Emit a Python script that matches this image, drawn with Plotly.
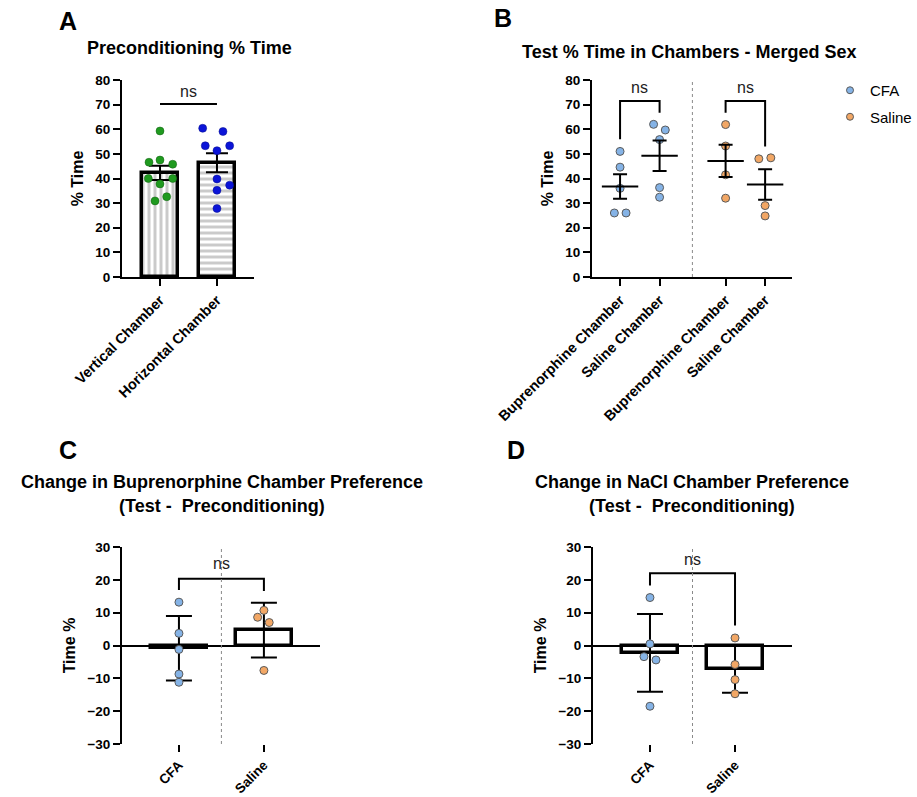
import numpy as np
import plotly.graph_objects as go

FONT = "Liberation Sans, Arial, sans-serif"

# ---------------- data ----------------
# Panel A: Preconditioning % time
a_categories = ["Vertical Chamber", "Horizontal Chamber"]
a_vertical = [59.3, 46.6, 47.5, 45.8, 40.0, 40.0, 37.8, 32.6, 30.9]
a_horizontal = [60.4, 59.1, 53.3, 53.3, 51.3, 39.8, 37.3, 35.2, 27.8]

# Panel B: Test % time in chambers (merged sex)
b_categories = ["Buprenorphine Chamber", "Saline Chamber",
                "Buprenorphine Chamber", "Saline Chamber"]
b_cfa_bup = [51.0, 44.6, 36.0, 26.0, 26.0]
b_cfa_sal = [62.0, 59.7, 55.8, 36.3, 32.4]
b_sal_bup = [61.9, 53.2, 41.5, 32.0]
b_sal_sal = [48.0, 48.4, 29.0, 24.8]

# Panel C: change in buprenorphine chamber preference
c_categories = ["CFA", "Saline"]
c_cfa = [13.2, 3.7, -1.2, -8.7, -11.2]
c_saline = [10.7, 8.6, 7.0, -7.6]

# Panel D: change in NaCl chamber preference
d_categories = ["CFA", "Saline"]
d_cfa = [14.6, 0.5, -3.4, -4.4, -18.5]
d_saline = [2.3, -5.8, -10.4, -14.7]

# ---------------- style ----------------
CFA_COLOR = "#85b3e6"
SAL_COLOR = "#f2a765"
GREEN = "#1f9a1f"
BLUE = "#0b14d8"

# horizontal jitter of dots, in pixels (style only)
a_vert_jit = [0, -11, 0, 12.7, -11.7, 12.7, 0, 6.7, -5]
a_hor_jit = [-14.3, 6, -11.7, 12.7, 0, 0, 12.7, 0, 0]
b_jit = [[0, 0, 0, -5.7, 6], [-6, 5.7, 0, 0, 0], [0, 0, 0, 0], [-6.3, 5.7, 0, 0]]
c_jit = [[0, 0, 0, 0, 0], [0, -6.3, 5.3, 0]]
d_jit = [[0, 0, -6, 6, 0], [0, 0, 0, 0]]

A_PX, B_PX, CD_PX = 57.0, 39.5, 85.0   # pixels per x unit
a_pos = [0, 1]
b_pos = [1, 2, 3.67, 4.67]
cd_pos = [0, 1]


def sem(v):
    v = np.asarray(v, float)
    return v.std(ddof=1) / np.sqrt(len(v))


def sd(v):
    return float(np.asarray(v, float).std(ddof=1))


def jitter(pos, jit, px):
    return [pos + j / px for j in jit]


fig = go.Figure()

# ---------- Panel A ----------
a_groups = [a_vertical, a_horizontal]
fig.add_trace(go.Bar(
    x=a_pos, y=[np.mean(g) for g in a_groups], width=0.62,
    marker=dict(color="white", line=dict(color="black", width=3.5),
                pattern=dict(shape=["|", "-"], fgcolor="#969696", bgcolor="white",
                             size=6, solidity=0.5)),
    error_y=dict(type="data", array=[sem(g) for g in a_groups], color="black",
                 thickness=2, width=11),
    xaxis="x", yaxis="y", showlegend=False))
fig.add_trace(go.Scatter(
    x=jitter(a_pos[0], a_vert_jit, A_PX), y=a_vertical, mode="markers",
    marker=dict(color=GREEN, size=8, line=dict(color="#136013", width=0.5)),
    xaxis="x", yaxis="y", showlegend=False))
fig.add_trace(go.Scatter(
    x=jitter(a_pos[1], a_hor_jit, A_PX), y=a_horizontal, mode="markers",
    marker=dict(color=BLUE, size=8, line=dict(color="#08108a", width=0.5)),
    xaxis="x", yaxis="y", showlegend=False))

# ---------- Panel B ----------
b_groups = [b_cfa_bup, b_cfa_sal, b_sal_bup, b_sal_sal]
b_colors = [CFA_COLOR, CFA_COLOR, SAL_COLOR, SAL_COLOR]
for pos, g, jit, col in zip(b_pos, b_groups, b_jit, b_colors):
    fig.add_trace(go.Scatter(
        x=jitter(pos, jit, B_PX), y=g, mode="markers",
        marker=dict(color=col, size=8, line=dict(color="#5a5a5a", width=1)),
        xaxis="x2", yaxis="y2", showlegend=False))
fig.add_trace(go.Scatter(
    x=b_pos, y=[np.mean(g) for g in b_groups], mode="markers",
    marker=dict(symbol="line-ew", size=26, color="black",
                line=dict(color="black", width=2)),
    error_y=dict(type="data", array=[sem(g) for g in b_groups], color="black",
                 thickness=2, width=7),
    xaxis="x2", yaxis="y2", showlegend=False))

# legend entries
fig.add_trace(go.Scatter(x=[None], y=[None], mode="markers", name="CFA",
                         legendgroup="cfa",
                         marker=dict(color=CFA_COLOR, size=7,
                                     line=dict(color="#5a5a5a", width=1)),
                         xaxis="x2", yaxis="y2"))
fig.add_trace(go.Scatter(x=[None], y=[None], mode="markers", name="Saline",
                         legendgroup="sal",
                         marker=dict(color=SAL_COLOR, size=7,
                                     line=dict(color="#5a5a5a", width=1)),
                         xaxis="x2", yaxis="y2"))

# ---------- Panels C & D ----------
for (cfa, sal, jits, xa, ya) in [(c_cfa, c_saline, c_jit, "x3", "y3"),
                                  (d_cfa, d_saline, d_jit, "x4", "y4")]:
    groups = [cfa, sal]
    fig.add_trace(go.Bar(
        x=cd_pos, y=[np.mean(g) for g in groups], width=0.65,
        marker=dict(color="white", line=dict(color="black", width=3.5)),
        error_y=dict(type="data", array=[sd(g) for g in groups], color="black",
                     thickness=2, width=13),
        xaxis=xa, yaxis=ya, showlegend=False))
    for pos, g, jit, col in zip(cd_pos, groups, jits, [CFA_COLOR, SAL_COLOR]):
        fig.add_trace(go.Scatter(
            x=jitter(pos, jit, CD_PX), y=g, mode="markers",
            marker=dict(color=col, size=8, line=dict(color="#5a5a5a", width=1)),
            xaxis=xa, yaxis=ya, showlegend=False))

# ---------- axes ----------
W, H = 917, 797


def xd(a, b):
    return [a / W, b / W]


def yd(top, bottom):
    return [1 - bottom / H, 1 - top / H]


ytickfont = dict(family=FONT, size=13.5, color="black", weight="bold")
xtickfont = dict(family=FONT, size=14.5, color="black", weight="bold")
cdtickfont = dict(family=FONT, size=13.5, color="black", weight="bold")
titlefont = dict(family=FONT, size=16, color="black")
common_x = dict(showline=True, linecolor="black", linewidth=2, ticks="outside",
                ticklen=7, tickwidth=2, tickcolor="black", showgrid=False,
                zeroline=False, tickangle=-45, tickfont=xtickfont, fixedrange=True,
                automargin=False)
common_y = dict(showline=True, linecolor="black", linewidth=2, ticks="outside",
                ticklen=7, tickwidth=2, tickcolor="black", showgrid=False,
                tickfont=ytickfont, fixedrange=True, automargin=False)

fig.update_layout(
    xaxis=dict(common_x, domain=xd(122, 254), range=[-0.667, 1.65], anchor="y",
               tickmode="array", tickvals=a_pos, ticktext=a_categories),
    yaxis=dict(common_y, domain=yd(80, 277), range=[0, 80], dtick=10, anchor="x",
               zeroline=False, title=dict(text="<b>% Time</b>", font=titlefont, standoff=8)),
    xaxis2=dict(common_x, domain=xd(592, 792), range=[0.29, 5.35], anchor="y2",
                tickmode="array", tickvals=b_pos, ticktext=b_categories),
    yaxis2=dict(common_y, domain=yd(80, 277), range=[0, 80], dtick=10, anchor="x2",
                zeroline=False, title=dict(text="<b>% Time</b>", font=titlefont, standoff=8)),
    xaxis3=dict(common_x, domain=xd(122, 320), range=[-0.67, 1.66], anchor="y3",
                showline=False, tickmode="array", tickvals=cd_pos, ticktext=c_categories,
                tickfont=cdtickfont),
    yaxis3=dict(common_y, domain=yd(547, 744), range=[-30, 30], dtick=10, anchor="x3",
                zeroline=True, zerolinecolor="black", zerolinewidth=2,
                title=dict(text="<b>Time %</b>", font=titlefont, standoff=8)),
    xaxis4=dict(common_x, domain=xd(593, 792), range=[-0.67, 1.67], anchor="y4",
                showline=False, tickmode="array", tickvals=cd_pos, ticktext=d_categories,
                tickfont=cdtickfont),
    yaxis4=dict(common_y, domain=yd(547, 744), range=[-30, 30], dtick=10, anchor="x4",
                zeroline=True, zerolinecolor="black", zerolinewidth=2,
                title=dict(text="<b>Time %</b>", font=titlefont, standoff=8)),
)

# ---------- shapes: brackets & dividers ----------
shapes = []
blk = dict(color="black", width=2)
dot = dict(color="#8a8a8a", width=1, dash="dot")
shapes.append(dict(type="line", xref="x", yref="y", x0=0, x1=1, y0=70.3, y1=70.3, line=blk))
shapes.append(dict(type="path", xref="x2", yref="y2",
                   path="M 1,55.9 L 1,71.5 L 2,71.5 L 2,66.7", line=blk))
shapes.append(dict(type="path", xref="x2", yref="y2",
                   path="M 3.67,66.7 L 3.67,71.5 L 4.67,71.5 L 4.67,53", line=blk))
shapes.append(dict(type="path", xref="x3", yref="y3",
                   path="M 0,16.9 L 0,20.3 L 1,20.3 L 1,16.6", line=blk))
shapes.append(dict(type="path", xref="x4", yref="y4",
                   path="M 0,18.3 L 0,22 L 1,22 L 1,6.1", line=blk))
shapes.append(dict(type="line", xref="x2", yref="y2", x0=2.83, x1=2.83, y0=0, y1=80, line=dot))
shapes.append(dict(type="line", xref="x3", yref="y3", x0=0.5, x1=0.5, y0=-30, y1=30, line=dot))
shapes.append(dict(type="line", xref="x4", yref="y4", x0=0.5, x1=0.5, y0=-30, y1=30, line=dot))
fig.update_layout(shapes=shapes)

# ---------- annotations ----------
ns_font = dict(family=FONT, size=16, color="#222")
ann = []
for xr, yr, x, y in [("x", "y", 0.5, 75.2), ("x2", "y2", 1.5, 77.1),
                     ("x2", "y2", 4.17, 77.1), ("x3", "y3", 0.5, 25.0),
                     ("x4", "y4", 0.5, 26.2)]:
    ann.append(dict(text="ns", xref=xr, yref=yr, x=x, y=y, showarrow=False,
                    font=ns_font, xanchor="center", yanchor="middle"))

tfont = dict(family=FONT, size=18, color="black")
lfont = dict(family=FONT, size=25, color="black")


def paper_text(text, x, y, font, xanchor="center"):
    return dict(text=text, xref="paper", yref="paper", x=x / W, y=1 - y / H,
                showarrow=False, font=font, xanchor=xanchor, yanchor="middle")


ann += [
    paper_text("<b>A</b>", 68, 21, lfont),
    paper_text("<b>B</b>", 503, 18, lfont),
    paper_text("<b>C</b>", 68, 450, lfont),
    paper_text("<b>D</b>", 516, 450, lfont),
    paper_text("<b>Preconditioning % Time</b>", 189, 48, tfont),
    paper_text("<b>Test % Time in Chambers - Merged Sex</b>", 689, 52, tfont),
    paper_text("<b>Change in Buprenorphine Chamber Preference</b>", 222, 482, tfont),
    paper_text("<b>(Test -  Preconditioning)</b>", 222, 506, tfont),
    paper_text("<b>Change in NaCl Chamber Preference</b>", 692, 482, tfont),
    paper_text("<b>(Test -  Preconditioning)</b>", 692, 506, tfont),
]
fig.update_layout(annotations=ann)

fig.update_layout(
    width=W, height=H, margin=dict(l=0, r=0, t=0, b=0, autoexpand=False),
    paper_bgcolor="white", plot_bgcolor="white",
    font=dict(family=FONT, color="black"),
    bargap=0,
    legend=dict(x=830 / W, y=1 - 74 / H, xanchor="left", yanchor="top",
                font=dict(family=FONT, size=15, color="black"),
                tracegroupgap=4, traceorder="grouped", bgcolor="rgba(0,0,0,0)"),
)

fig.write_html("out.html",
               config=dict(displayModeBar=False),
               post_script="document.body.style.margin='0';"
                           "document.body.style.overflow='hidden';")
